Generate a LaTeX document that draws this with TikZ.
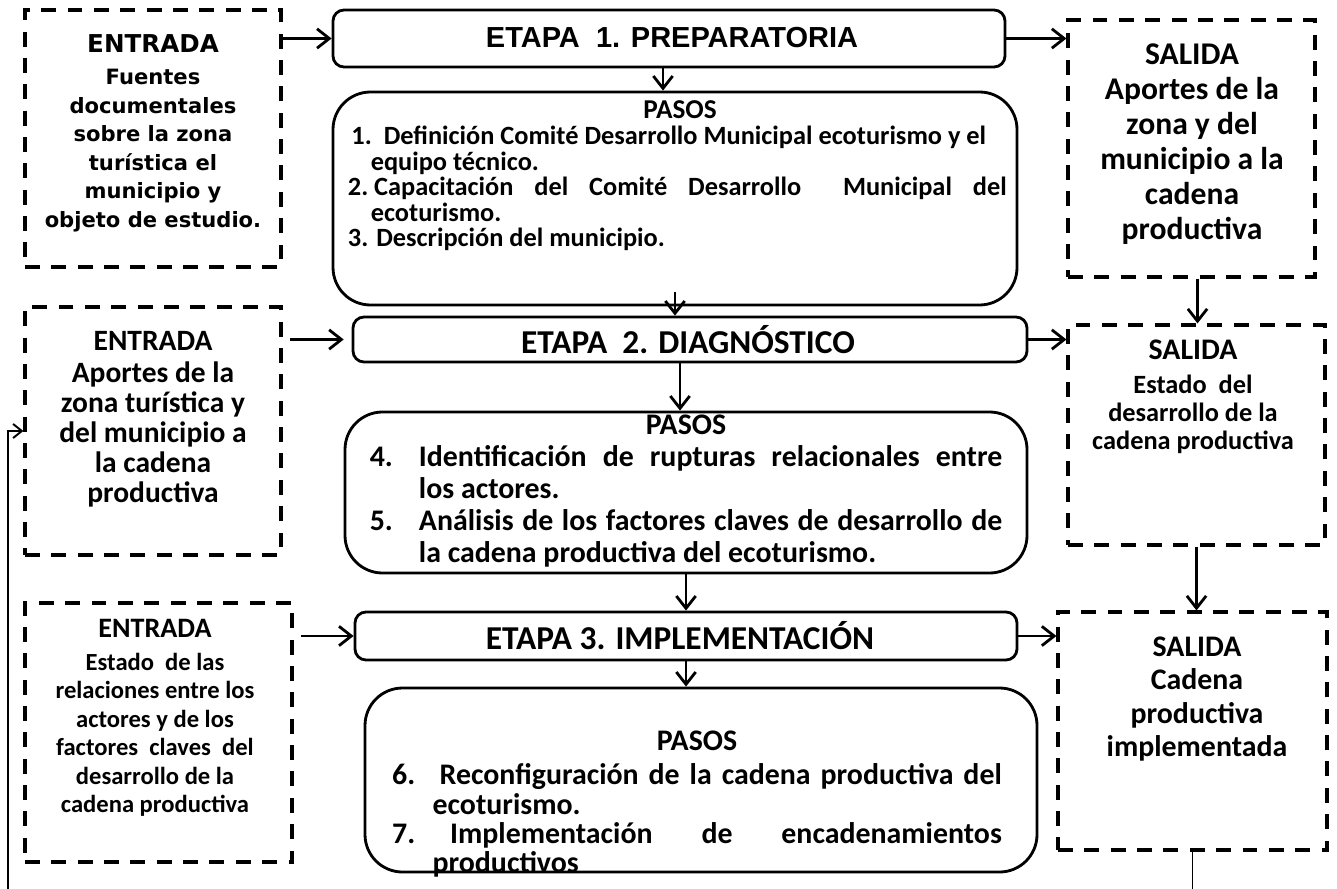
\documentclass[tikz,border=0pt]{standalone}
\usepackage{fontspec}
\setmainfont{Carlito}
\newfontfamily\dvs{DejaVu Sans}
\newfontfamily\lsans{Liberation Sans}
\usetikzlibrary{arrows.meta}

\tikzset{
  solidbox/.style={draw, line width=1.6pt, rounded corners=0.22cm, inner sep=0pt},
  pasobox/.style={draw, line width=1.6pt, rounded corners=0.75cm, inner sep=0pt},
  dashbox/.style={draw, line width=1.8pt, dash pattern=on 8.5pt off 6.5pt, inner sep=0pt},
  arr/.style={line width=1.6pt, -{Straight Barb[length=7pt,width=11pt]}},
  fbarr/.style={line width=1.1pt, -{Straight Barb[length=5pt,width=8pt]}},
  txt/.style={inner sep=0pt, align=center},
  steptext/.style={inner sep=0pt, align=justify},
}
\newcommand\mkbox[6]{\node[#2, minimum width={(#5-#3)*0.02cm}, minimum height={(#6-#4)*0.02cm}] (#1) at ({(#3+#5)/2},{(#4+#6)/2}) {};}

\begin{document}
\begin{tikzpicture}[x=0.02cm, y=-0.02cm]
\useasboundingbox (0,0) rectangle (1337,888);
\clip (0,0) rectangle (1337,888);

% boxes
\mkbox{E1}{dashbox}{25}{10}{281}{267}
\mkbox{et1}{solidbox}{333}{10}{1005}{67}
\mkbox{p1}{pasobox}{333}{92}{1017}{305}
\mkbox{S1}{dashbox}{1068}{20}{1315}{277}
\mkbox{E2}{dashbox}{25}{307}{281}{555}
\mkbox{et2}{solidbox}{353}{317}{1027}{362}
\mkbox{p2}{pasobox}{345}{412}{1027}{573}
\mkbox{S2}{dashbox}{1068}{325}{1325}{545}
\mkbox{E3}{dashbox}{25}{603}{292}{862}
\mkbox{et3}{solidbox}{355}{612}{1017}{660}
\mkbox{p3}{pasobox}{365}{688}{1037}{872}
\mkbox{S3}{dashbox}{1058}{612}{1327}{850}

% texts of inputs
\node[txt, font=\dvs\bfseries\fontsize{12}{16.2}\selectfont] (E1t) at (153,133)
  {{\fontsize{14}{14}\selectfont ENTRADA}\\[2.5pt]Fuentes\\documentales\\sobre la zona\\turística el\\municipio y\\objeto de estudio.};
\node[txt, font=\bfseries\fontsize{16.8}{17}\selectfont] (E2t) at (153,419)
  {ENTRADA\\[1.5pt]Aportes de la\\zona turística y\\del municipio a\\la cadena\\productiva};
\node[txt, font=\bfseries\fontsize{14}{16.2}\selectfont] (E3t) at (155,718)
  {{\fontsize{16}{16}\selectfont ENTRADA}\\[2.5pt]Estado\ \ de las\\relaciones entre los\\actores y de los\\factores\ \ claves\ \ del\\desarrollo de la\\cadena productiva};

% texts of outputs
\node[txt, font=\bfseries\fontsize{18}{20}\selectfont] (S1t) at (1192,144)
  {SALIDA\\Aportes de la\\zona y del\\municipio a la\\cadena\\productiva};
\node[txt, font=\bfseries\fontsize{15}{16}\selectfont] (S2t) at (1193,397)
  {{\fontsize{17}{17}\selectfont SALIDA}\\[3pt]Estado\ \ del\\desarrollo de la\\cadena productiva};
\node[txt, font=\bfseries\fontsize{17}{19}\selectfont] (S3t) at (1197,699)
  {SALIDA\\Cadena\\productiva\\implementada};

% stage titles
\node[txt, font=\lsans\bfseries\fontsize{16.5}{18}\selectfont] (et1t) at (672,38) {ETAPA\ \ 1. PREPARATORIA};
\node[txt, font=\bfseries\fontsize{19}{20}\selectfont] (et2t) at (688,340) {ETAPA\ \ 2. DIAGNÓSTICO};
\node[txt, font=\bfseries\fontsize{19}{20}\selectfont] (et3t) at (680,636) {ETAPA 3. IMPLEMENTACIÓN};

% steps
\node[steptext, text width=378pt, font=\bfseries\fontsize{15}{14.6}\selectfont] (p1t) at (680,176)
  {\makebox[\linewidth][c]{\fontsize{15.5}{15}\selectfont PASOS}\\
   \hspace*{2pt}1.\ \ Definición Comité Desarrollo Municipal ecoturismo y el\\
   \hspace*{13pt}equipo técnico.\\
   2.\hspace{0.22em}\makebox[\dimexpr\linewidth-1.2em\relax][s]{Capacitación del Comité Desarrollo \ Municipal del}\\
   \hspace*{13pt}ecoturismo.\\
   3. Descripción del municipio.};
\node[steptext, text width=360pt, font=\bfseries\fontsize{17}{18.2}\selectfont] (p2t) at (686,491)
  {\makebox[\linewidth][c]{PASOS}\\
   \makebox[28pt][l]{4.}\makebox[\dimexpr\linewidth-28pt\relax][s]{Identificación de rupturas relacionales entre}\\
   \hspace*{28pt}los actores.\\
   \makebox[28pt][l]{5.}\makebox[\dimexpr\linewidth-28pt\relax][s]{Análisis de los factores claves de desarrollo de}\\
   \hspace*{28pt}la cadena productiva del ecoturismo.};
\node[steptext, text width=347pt, font=\bfseries\fontsize{17}{16.6}\selectfont] (p3t) at (697,804)
  {\makebox[\linewidth][c]{PASOS}\\[3pt]
   \makebox[23pt][l]{6.}\makebox[\dimexpr\linewidth-23pt\relax][s]{\hspace*{4pt}Reconfiguración de la cadena productiva del}\\
   \hspace*{23pt}ecoturismo.\\
   \makebox[23pt][l]{7.}\makebox[\dimexpr\linewidth-23pt\relax][s]{\hspace*{10pt}Implementación de encadenamientos}\\
   \hspace*{23pt}productivos};

% horizontal connectors
\draw[arr] (E1.east |- et1.west) -- (et1.west);
\draw[arr] (et1.east) -- (et1.east -| S1.west);
\draw[arr, shorten <=4.5pt, shorten >=4.5pt] (E2.east |- et2.west) -- (et2.west);
\draw[arr] (et2.east) -- (et2.east -| S2.west);
\draw[arr, shorten <=4.5pt] (E3.east |- et3.west) -- (et3.west);
\draw[arr] (et3.east) -- (et3.east -| S3.west);

% vertical connectors
\draw[arr] ([xshift=-0.12cm]et1.south) -- ([xshift=-0.12cm]et1.south |- p1.north);
\draw[arr, shorten <=-8pt] (p1.south) -- (p1.south |- et2.north);
\draw[arr] ([xshift=-0.2cm]et2.south) -- ([xshift=-0.2cm]et2.south |- p2.north);
\draw[arr] (p2.south) -- (p2.south |- et3.north);
\draw[arr] (et3.south) -- (et3.south |- p3.north);
\draw[arr] ([xshift=0.12cm]S1.south) -- ([xshift=0.12cm]S1.south |- S2.north);
\draw[arr] (S2.south) -- (S2.south |- S3.north);

% feedback
\coordinate (fb) at (8,895);
\draw[fbarr] (S3.south) |- (fb) |- (E2.west);
\end{tikzpicture}
\end{document}
